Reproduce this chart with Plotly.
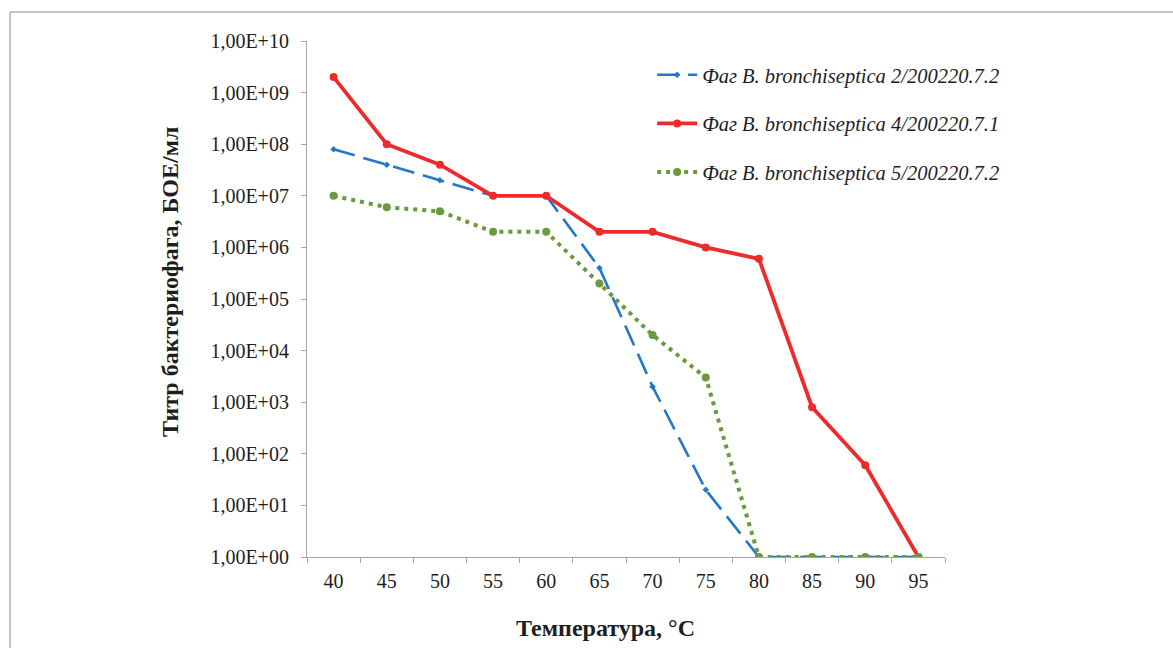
import plotly.graph_objects as go

temps = ["40", "45", "50", "55", "60", "65", "70", "75", "80", "85", "90", "95"]
phage2 = [8e7, 4e7, 2e7, 1e7, 1e7, 4e5, 2e3, 2e1, 1, 1, 1, 1]
phage4 = [2e9, 1e8, 4e7, 1e7, 1e7, 2e6, 2e6, 1e6, 6e5, 8e2, 6e1, 1]
phage5 = [1e7, 6e6, 5e6, 2e6, 2e6, 2e5, 2e4, 3e3, 1, 1, 1, 1]
names = ["Фаг B. bronchiseptica 2/200220.7.2",
         "Фаг B. bronchiseptica 4/200220.7.1",
         "Фаг B. bronchiseptica 5/200220.7.2"]
ytick_vals = [10 ** k for k in range(0, 11)]
ytick_text = ["1,00E+%02d" % k for k in range(0, 11)]
x_title = "Температура, °С"
y_title = "Титр бактериофага, БОЕ/мл"

FONT = "Liberation Serif"
TXT = "#1e1e1e"

# plot-area geometry in pixels (for converting title positions to paper coords)
L, R, T, B = 307, 945, 41, 557
PW, PH = R - L, B - T

fig = go.Figure()
fig.add_trace(go.Scatter(
    x=temps, y=phage2, name=names[0], mode="lines+markers", legendgroup="a",
    line=dict(color="#2278c8", width=2.6, dash="22px,9px"),
    marker=dict(symbol="diamond", size=5, color="#2278c8")))
fig.add_trace(go.Scatter(
    x=temps, y=phage4, name=names[1], mode="lines+markers", legendgroup="b",
    line=dict(color="#ee2b2b", width=3.8),
    marker=dict(symbol="circle", size=8, color="#ee2b2b")))
fig.add_trace(go.Scatter(
    x=temps, y=phage5, name=names[2], mode="lines+markers", legendgroup="c",
    line=dict(color="#6a9a3c", width=4, dash="4px,5px"),
    marker=dict(symbol="circle", size=8, color="#6a9a3c")))

fig.update_layout(
    width=1173, height=648,
    margin=dict(l=L, r=1173 - R, t=T, b=648 - B),
    paper_bgcolor="white", plot_bgcolor="white",
    font=dict(family=FONT, color=TXT),
    showlegend=True,
    legend=dict(x=0.541, y=0.973, xanchor="left", yanchor="top",
                font=dict(family=FONT, size=20.5, style="italic", color=TXT),
                tracegroupgap=19, itemwidth=40,
                bgcolor="rgba(0,0,0,0)"),
    xaxis=dict(type="category", tickson="boundaries", range=[-0.5, 11.5],
               automargin=False,
               showline=True, linecolor="#a6a6a6", linewidth=1.2,
               ticks="outside", ticklen=5, tickcolor="#a6a6a6",
               ticklabelstandoff=6,
               showgrid=False, zeroline=False,
               tickfont=dict(family=FONT, size=20, color=TXT)),
    yaxis=dict(type="log", range=[0, 10], automargin=False,
               tickvals=ytick_vals, ticktext=ytick_text,
               showline=True, linecolor="#a6a6a6", linewidth=1.2,
               ticks="outside", ticklen=5, tickcolor="#a6a6a6",
               ticklabelstandoff=8,
               showgrid=False, zeroline=False,
               tickfont=dict(family=FONT, size=20, color=TXT)),
)

# axis titles as annotations (positioned as in the original)
fig.add_annotation(text="<b>%s</b>" % x_title, xref="paper", yref="paper",
                   x=(605 - L) / PW, y=(B - 628) / PH,
                   xanchor="center", yanchor="middle", showarrow=False,
                   font=dict(family=FONT, size=24, color=TXT))
fig.add_annotation(text="<b>%s</b>" % y_title, xref="paper", yref="paper",
                   x=(170 - L) / PW, y=(B - 282) / PH, textangle=-90,
                   xanchor="center", yanchor="middle", showarrow=False,
                   font=dict(family=FONT, size=24, color=TXT))

# light border of the figure frame (top and left)
fig.add_shape(type="line", xref="paper", yref="paper",
              x0=(10 - L) / PW, x1=(1173 - L) / PW,
              y0=(B - 12) / PH, y1=(B - 12) / PH,
              line=dict(color="#b0b0b0", width=1.5))
fig.add_shape(type="line", xref="paper", yref="paper",
              x0=(10 - L) / PW, x1=(10 - L) / PW,
              y0=(B - 12) / PH, y1=(B - 648) / PH,
              line=dict(color="#b0b0b0", width=1.5))

fig.write_html("out.html", config={"displayModeBar": False},
               post_script="document.body.style.margin='0';")
